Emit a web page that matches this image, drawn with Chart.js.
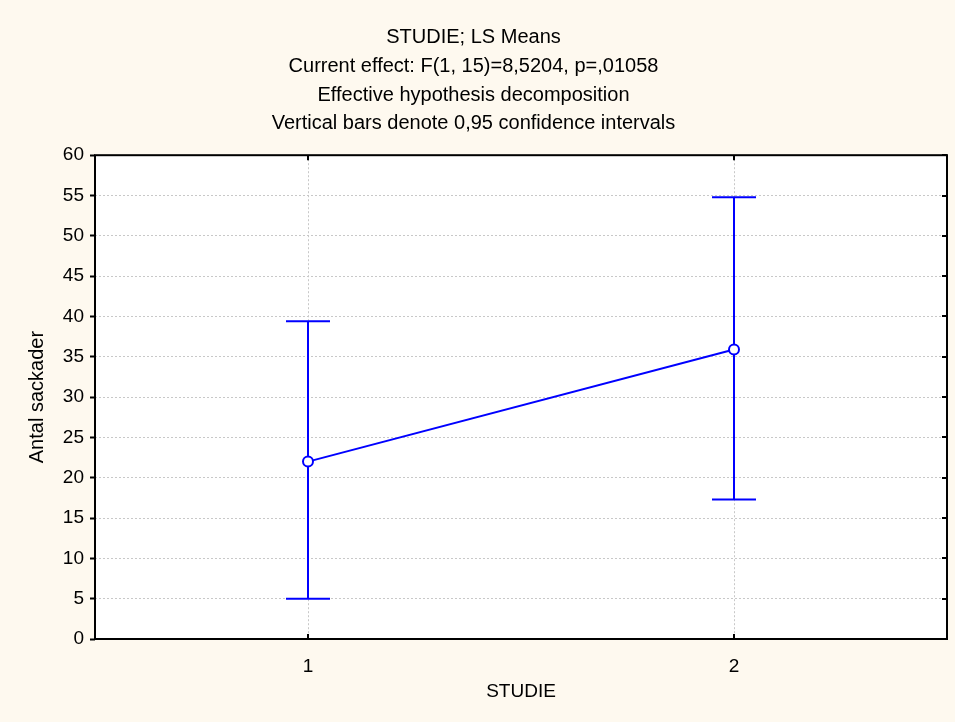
<!DOCTYPE html>
<html>
<head>
<meta charset="utf-8">
<script src="https://cdn.jsdelivr.net/npm/chart.js@4"></script>
<style>
  body { margin: 0; background: #fef9ef; }
  canvas { display: block; }
</style>
</head>
<body>
<canvas id="chart" width="955" height="722"></canvas>
<script>
// LS means per STUDIE with 0,95 confidence intervals
const studie = [1, 2];
const xTickLabels = ['1', '2'];
const means = [22.0, 35.9];
const lower = [5.0, 17.3];
const upper = [39.4, 54.8];
const yTicks = [0, 5, 10, 15, 20, 25, 30, 35, 40, 45, 50, 55, 60];

const titleLines = [
    'STUDIE; LS Means',
    'Current effect: F(1, 15)=8,5204, p=,01058',
    'Effective hypothesis decomposition',
    'Vertical bars denote 0,95 confidence intervals'
];

const blue = '#0000ff';
const fontFamily = 'Liberation Sans, Arial, sans-serif';

// one dataset per error bar, caps drawn as 'line' point style
const errorSets = studie.map((s, i) => ({
    data: [{x: s, y: lower[i]}, {x: s, y: upper[i]}],
    borderColor: blue,
    borderWidth: 2,
    pointStyle: 'line',
    pointRadius: 22,
    pointBorderColor: blue,
    pointBorderWidth: 2,
    pointHoverRadius: 22
}));

// background + plot area + frame with inward ticks
const framePlugin = {
    id: 'frame',
    beforeDraw(chart) {
        const ctx = chart.ctx;
        const a = chart.chartArea;
        ctx.save();
        ctx.fillStyle = '#fef9ef';
        ctx.fillRect(0, 0, chart.width, chart.height);
        ctx.fillStyle = '#ffffff';
        ctx.fillRect(a.left, a.top, a.right - a.left, a.bottom - a.top);
        ctx.restore();
    },
    afterDraw(chart) {
        const ctx = chart.ctx;
        const a = chart.chartArea;
        const xs = chart.scales.x;
        const ys = chart.scales.y;
        ctx.save();
        ctx.strokeStyle = '#000';
        ctx.lineWidth = 2;
        ctx.strokeRect(a.left, a.top, a.right - a.left, a.bottom - a.top);
        ctx.beginPath();
        studie.forEach(v => {
            const px = Math.round(xs.getPixelForValue(v));
            ctx.moveTo(px, a.bottom); ctx.lineTo(px, a.bottom - 5);
            ctx.moveTo(px, a.top); ctx.lineTo(px, a.top + 5);
        });
        yTicks.forEach(v => {
            const py = Math.round(ys.getPixelForValue(v));
            ctx.moveTo(a.right, py); ctx.lineTo(a.right - 5, py);
        });
        ctx.stroke();
        ctx.restore();
    }
};

const ctx = document.getElementById('chart').getContext('2d');
const myChart = new Chart(ctx, {
    type: 'line',
    data: {
        datasets: [{
            data: studie.map((s, i) => ({x: s, y: means[i]})),
            borderColor: blue,
            borderWidth: 2,
            pointRadius: 5,
            pointBackgroundColor: '#ffffff',
            pointBorderColor: blue,
            pointBorderWidth: 2,
            pointHoverRadius: 5
        }].concat(errorSets)
    },
    options: {
        responsive: false,
        animation: false,
        layout: { autoPadding: false, padding: { left: 0, right: 8, top: 23, bottom: 0 } },
        plugins: {
            legend: { display: false },
            tooltip: { enabled: false },
            title: {
                display: true,
                text: titleLines,
                color: '#000',
                font: { family: fontFamily, size: 20, weight: 'normal', lineHeight: 1.44 },
                padding: { top: 0, bottom: 17 }
            }
        },
        scales: {
            x: {
                type: 'linear',
                min: 0.5,
                max: 2.5,
                afterBuildTicks: scale => { scale.ticks = studie.map(v => ({value: v})); },
                afterFit: scale => { scale.height = 83; },
                ticks: {
                    color: '#000',
                    font: { family: fontFamily, size: 19 },
                    padding: 16,
                    callback: (v) => xTickLabels[studie.indexOf(v)]
                },
                grid: { color: '#c8c8c8', lineWidth: 1, drawTicks: false },
                border: { display: false, dash: [2, 2] },
                title: {
                    display: true,
                    text: 'STUDIE',
                    color: '#000',
                    font: { family: fontFamily, size: 19 },
                    padding: { top: 0, bottom: 19 }
                }
            },
            y: {
                min: 0,
                max: 60,
                afterBuildTicks: scale => { scale.ticks = yTicks.map(v => ({value: v})); },
                afterFit: scale => { scale.width = 95; },
                ticks: {
                    color: '#000',
                    font: { family: fontFamily, size: 19 },
                    padding: 6
                },
                grid: { color: '#c8c8c8', lineWidth: 1, tickLength: 5, tickColor: '#000', tickWidth: 2 },
                border: { display: false, dash: [2, 2] },
                title: {
                    display: true,
                    text: 'Antal sackader',
                    color: '#000',
                    font: { family: fontFamily, size: 20 },
                    padding: { top: 25, bottom: 0 }
                }
            }
        }
    },
    plugins: [framePlugin]
});
</script>
</body>
</html>
